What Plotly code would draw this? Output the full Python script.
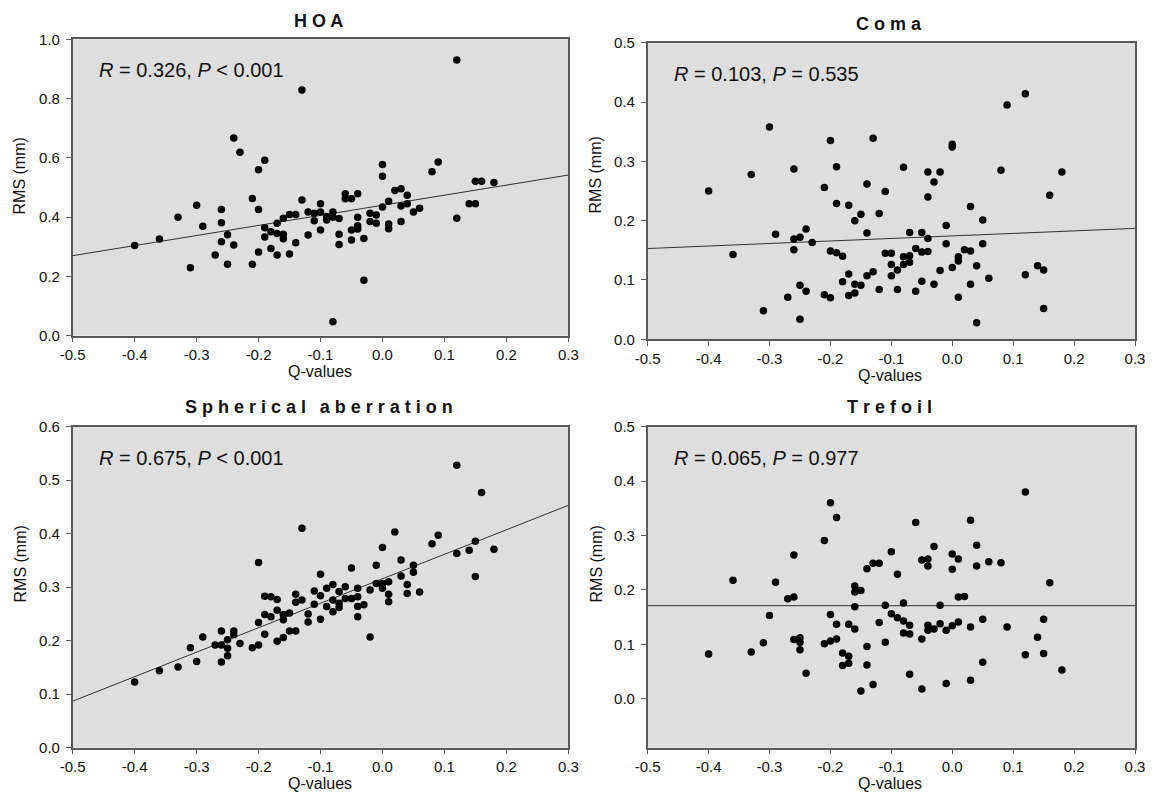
import plotly.graph_objects as go

# The page body has an 8 px margin, so the figure is 8 px smaller than the
# window and every reference pixel position is shifted back by 8 px.
W, H = 1155, 793
OFF = 8
WF, HF = W - OFF, H - OFF

# ---------------- data ----------------
panel_titles = ["HOA", "Coma", "Spherical aberration", "Trefoil"]
stat_texts = ["<i>R</i> = 0.326, <i>P</i> &lt; 0.001",
              "<i>R</i> = 0.103, <i>P</i> = 0.535",
              "<i>R</i> = 0.675, <i>P</i> &lt; 0.001",
              "<i>R</i> = 0.065, <i>P</i> = 0.977"]

hoa_pts = [(-0.40,0.304),(-0.36,0.326),(-0.33,0.400),(-0.31,0.229),(-0.30,0.440),(-0.29,0.369),
           (-0.27,0.272),(-0.26,0.426),(-0.26,0.381),(-0.26,0.317),(-0.25,0.341),(-0.25,0.241),
           (-0.24,0.306),(-0.24,0.667),(-0.23,0.619),(-0.21,0.463),(-0.21,0.241),(-0.20,0.560),
           (-0.20,0.426),(-0.20,0.282),(-0.19,0.592),(-0.19,0.364),(-0.19,0.333),(-0.18,0.351),
           (-0.18,0.294),(-0.17,0.379),(-0.17,0.345),(-0.17,0.272),(-0.16,0.396),(-0.16,0.342),
           (-0.16,0.327),(-0.15,0.409),(-0.15,0.276),(-0.14,0.409),(-0.14,0.314),(-0.13,0.829),
           (-0.13,0.458),(-0.12,0.417),(-0.12,0.340),(-0.11,0.413),(-0.11,0.388),(-0.10,0.445),
           (-0.10,0.417),(-0.10,0.357),(-0.09,0.390),(-0.09,0.402),(-0.08,0.417),(-0.08,0.400),
           (-0.08,0.047),(-0.07,0.395),(-0.07,0.342),(-0.07,0.308),(-0.06,0.479),(-0.06,0.462),
           (-0.05,0.462),(-0.05,0.357),(-0.05,0.323),(-0.04,0.479),(-0.04,0.400),(-0.04,0.371),
           (-0.04,0.360),(-0.03,0.328),(-0.03,0.187),(-0.02,0.413),(-0.02,0.385),(-0.01,0.407),
           (-0.01,0.379),(0.00,0.578),(0.00,0.538),(0.00,0.434),(0.01,0.454),(0.01,0.377),
           (0.01,0.361),(0.02,0.490),(0.03,0.496),(0.03,0.438),(0.03,0.385),(0.04,0.474),
           (0.04,0.445),(0.05,0.417),(0.06,0.430),(0.08,0.553),(0.09,0.586),(0.12,0.930),
           (0.12,0.396),(0.14,0.445),(0.15,0.445),(0.15,0.521),(0.16,0.521),(0.18,0.517)]
hoa_q = [p[0] for p in hoa_pts]
hoa_rms = [p[1] for p in hoa_pts]

coma_pts = [(-0.40,0.250),(-0.36,0.143),(-0.33,0.278),(-0.31,0.048),(-0.30,0.358),(-0.29,0.177),
            (-0.27,0.071),(-0.26,0.287),(-0.26,0.169),(-0.26,0.151),(-0.25,0.172),(-0.25,0.091),
            (-0.25,0.034),(-0.24,0.186),(-0.24,0.081),(-0.23,0.163),(-0.21,0.256),(-0.21,0.075),
            (-0.20,0.335),(-0.20,0.149),(-0.20,0.070),(-0.19,0.291),(-0.19,0.229),(-0.19,0.146),
            (-0.18,0.140),(-0.18,0.097),(-0.17,0.226),(-0.17,0.110),(-0.17,0.074),(-0.16,0.200),
            (-0.16,0.093),(-0.16,0.078),(-0.15,0.211),(-0.15,0.091),(-0.14,0.262),(-0.14,0.179),
            (-0.14,0.107),(-0.13,0.339),(-0.13,0.114),(-0.12,0.212),(-0.12,0.084),(-0.11,0.249),
            (-0.11,0.145),(-0.10,0.145),(-0.10,0.126),(-0.10,0.107),(-0.09,0.117),(-0.09,0.084),
            (-0.08,0.290),(-0.08,0.139),(-0.08,0.126),(-0.07,0.180),(-0.07,0.141),(-0.07,0.130),
            (-0.06,0.153),(-0.06,0.081),(-0.05,0.180),(-0.05,0.147),(-0.05,0.098),(-0.04,0.282),
            (-0.04,0.240),(-0.04,0.170),(-0.04,0.148),(-0.03,0.265),(-0.03,0.093),(-0.02,0.282),
            (-0.02,0.116),(-0.01,0.192),(-0.01,0.161),(0.00,0.329),(0.00,0.324),(0.00,0.121),
            (0.01,0.139),(0.01,0.132),(0.01,0.071),(0.02,0.151),(0.03,0.224),(0.03,0.149),
            (0.03,0.093),(0.04,0.124),(0.04,0.028),(0.05,0.201),(0.05,0.161),(0.06,0.103),
            (0.08,0.285),(0.09,0.395),(0.12,0.414),(0.12,0.109),(0.14,0.124),(0.15,0.117),
            (0.15,0.052),(0.16,0.243),(0.18,0.282)]
coma_q = [p[0] for p in coma_pts]
coma_rms = [p[1] for p in coma_pts]

sph_pts = [(-0.40,0.123),(-0.36,0.144),(-0.33,0.151),(-0.31,0.187),(-0.30,0.161),(-0.29,0.207),
           (-0.27,0.192),(-0.26,0.218),(-0.26,0.192),(-0.26,0.160),(-0.25,0.202),(-0.25,0.186),
           (-0.25,0.172),(-0.24,0.218),(-0.24,0.211),(-0.23,0.195),(-0.21,0.187),(-0.20,0.346),
           (-0.20,0.234),(-0.20,0.192),(-0.19,0.283),(-0.19,0.249),(-0.19,0.212),(-0.18,0.282),
           (-0.18,0.245),(-0.17,0.277),(-0.17,0.257),(-0.17,0.199),(-0.16,0.249),(-0.16,0.239),
           (-0.16,0.206),(-0.15,0.252),(-0.15,0.218),(-0.14,0.287),(-0.14,0.272),(-0.14,0.218),
           (-0.13,0.410),(-0.13,0.276),(-0.12,0.250),(-0.12,0.235),(-0.11,0.293),(-0.11,0.268),
           (-0.10,0.324),(-0.10,0.284),(-0.10,0.240),(-0.09,0.298),(-0.09,0.264),(-0.08,0.305),
           (-0.08,0.276),(-0.08,0.254),(-0.07,0.292),(-0.07,0.270),(-0.07,0.262),(-0.06,0.301),
           (-0.06,0.279),(-0.05,0.336),(-0.05,0.279),(-0.04,0.298),(-0.04,0.282),(-0.04,0.264),
           (-0.04,0.245),(-0.03,0.267),(-0.02,0.295),(-0.02,0.207),(-0.01,0.341),(-0.01,0.307),
           (0.00,0.374),(0.00,0.307),(0.00,0.298),(0.01,0.310),(0.01,0.287),(0.01,0.273),
           (0.02,0.403),(0.03,0.351),(0.03,0.321),(0.04,0.305),(0.04,0.288),(0.05,0.341),
           (0.05,0.328),(0.06,0.291),(0.08,0.381),(0.09,0.397),(0.12,0.528),(0.12,0.363),
           (0.14,0.369),(0.15,0.386),(0.15,0.320),(0.16,0.477),(0.18,0.371)]
sph_q = [p[0] for p in sph_pts]
sph_rms = [p[1] for p in sph_pts]

tre_pts = [(-0.40,0.082),(-0.36,0.218),(-0.33,0.086),(-0.31,0.103),(-0.30,0.153),(-0.29,0.214),
           (-0.27,0.184),(-0.26,0.264),(-0.26,0.187),(-0.26,0.109),(-0.25,0.112),(-0.25,0.104),
           (-0.25,0.090),(-0.24,0.047),(-0.21,0.291),(-0.21,0.101),(-0.20,0.360),(-0.20,0.155),
           (-0.20,0.106),(-0.19,0.333),(-0.19,0.137),(-0.19,0.110),(-0.18,0.084),(-0.18,0.061),
           (-0.17,0.137),(-0.17,0.078),(-0.17,0.065),(-0.16,0.207),(-0.16,0.196),(-0.16,0.169),
           (-0.16,0.128),(-0.15,0.199),(-0.15,0.014),(-0.14,0.239),(-0.14,0.096),(-0.14,0.062),
           (-0.13,0.249),(-0.13,0.026),(-0.12,0.249),(-0.12,0.140),(-0.11,0.172),(-0.11,0.104),
           (-0.10,0.270),(-0.10,0.156),(-0.09,0.229),(-0.09,0.149),(-0.08,0.176),(-0.08,0.143),
           (-0.08,0.121),(-0.07,0.135),(-0.07,0.119),(-0.07,0.045),(-0.06,0.324),(-0.05,0.255),
           (-0.05,0.110),(-0.05,0.018),(-0.04,0.257),(-0.04,0.244),(-0.04,0.135),(-0.04,0.126),
           (-0.03,0.280),(-0.03,0.128),(-0.02,0.172),(-0.02,0.138),(-0.01,0.126),(-0.01,0.028),
           (0.00,0.266),(0.00,0.238),(0.00,0.134),(0.01,0.257),(0.01,0.187),(0.01,0.141),
           (0.02,0.188),(0.03,0.328),(0.03,0.132),(0.03,0.034),(0.04,0.282),(0.04,0.244),
           (0.05,0.146),(0.05,0.067),(0.06,0.252),(0.08,0.250),(0.09,0.132),(0.12,0.380),
           (0.12,0.081),(0.14,0.113),(0.15,0.146),(0.15,0.083),(0.16,0.213),(0.18,0.053)]
tre_q = [p[0] for p in tre_pts]
tre_rms = [p[1] for p in tre_pts]

# regression lines: fitted RMS at the ends of the Q range
fit_q = [-0.5, 0.3]
hoa_fit = [0.270, 0.542]
coma_fit = [0.153, 0.187]
sph_fit = [0.087, 0.453]
tre_fit = [0.171, 0.171]

# tick labels (plain hyphen minus, as in the reference)
x_tick_vals = [-0.5, -0.4, -0.3, -0.2, -0.1, 0.0, 0.1, 0.2, 0.3]
x_tick_text = ["-0.5", "-0.4", "-0.3", "-0.2", "-0.1", "0.0", "0.1", "0.2", "0.3"]
y_tick_vals = [[0.0, 0.2, 0.4, 0.6, 0.8, 1.0],
               [0.0, 0.1, 0.2, 0.3, 0.4, 0.5],
               [0.0, 0.1, 0.2, 0.3, 0.4, 0.5, 0.6],
               [0.0, 0.1, 0.2, 0.3, 0.4, 0.5]]
y_ranges = [[0, 1.0], [0, 0.5], [0, 0.6], [-0.09, 0.5]]

# ---------------- layout helpers ----------------
def fx(px):
    return (px - OFF) / WF

def fy(py):
    return 1 - (py - OFF) / HF

# pixel boxes (window coordinates) of the four plot areas: (left, right, top, bottom)
boxes = [(72.7, 568.3, 39.3, 335.7),
         (647.7, 1135.0, 42.7, 339.3),
         (72.7, 568.3, 426.7, 747.7),
         (647.7, 1135.0, 426.7, 747.7)]

series = [(hoa_q, hoa_rms, hoa_fit), (coma_q, coma_rms, coma_fit),
          (sph_q, sph_rms, sph_fit), (tre_q, tre_rms, tre_fit)]

FONT = "Arial, Liberation Sans, sans-serif"
AXC = "#5a5a5a"

fig = go.Figure()
layout = dict(template="none", width=WF, height=HF, autosize=False,
              margin=dict(l=0, r=0, t=0, b=0, pad=0),
              paper_bgcolor="white", plot_bgcolor="#dedede",
              showlegend=False, font=dict(family=FONT, color="#111"))

annotations = []
for i, ((xs, ys, fit), (l, r, t, b)) in enumerate(zip(series, boxes)):
    n = "" if i == 0 else str(i + 1)
    xa, ya = "x" + n, "y" + n
    fig.add_trace(go.Scatter(x=fit_q, y=fit, mode="lines",
                             line=dict(color="#333333", width=1),
                             xaxis=xa, yaxis=ya, hoverinfo="skip"))
    fig.add_trace(go.Scatter(x=xs, y=ys, mode="markers",
                             marker=dict(color="black", size=7.5, line=dict(width=0)),
                             xaxis=xa, yaxis=ya))
    common = dict(showline=True, linecolor=AXC, linewidth=1.5, mirror=True,
                  ticks="outside", ticklen=5, tickwidth=1, tickcolor=AXC,
                  showgrid=False, zeroline=False, automargin=False,
                  tickfont=dict(family=FONT, size=15, color="#111"))
    yt = y_tick_vals[i]
    layout["xaxis" + n] = dict(domain=[fx(l), fx(r)], anchor=ya,
                               range=[-0.5, 0.3], tickmode="array",
                               tickvals=x_tick_vals, ticktext=x_tick_text, **common)
    layout["yaxis" + n] = dict(domain=[fy(b), fy(t)], anchor=xa,
                               range=y_ranges[i], tickmode="array",
                               tickvals=yt, ticktext=["%.1f" % v for v in yt],
                               ticklabelstandoff=3, **common)
    cx = (l + r) / 2
    # panel title (letter-spaced)
    title_y = [21, 24.5, 406.5, 406.5][i]
    spaced = " ".join(panel_titles[i].replace(" ", "\u2009"))
    annotations.append(dict(text="<b>" + spaced + "</b>", x=fx(cx - 2), y=fy(title_y),
                            xref="paper", yref="paper", showarrow=False,
                            xanchor="center", yanchor="middle",
                            font=dict(family=FONT, size=18, color="#111")))
    # statistics text
    annotations.append(dict(text=stat_texts[i], x=fx(l + 24), y=fy(t + 31),
                            xref="paper", yref="paper", showarrow=False,
                            xanchor="left", yanchor="middle",
                            font=dict(family=FONT, size=20, color="#111")))
    # x axis title
    annotations.append(dict(text="Q-values", x=fx(cx - 1), y=fy(b + 36),
                            xref="paper", yref="paper", showarrow=False,
                            xanchor="center", yanchor="middle",
                            font=dict(family=FONT, size=16, color="#111")))
    # y axis title
    ax_x = 19.5 if i in (0, 2) else 595.5
    ax_y = [176, 175, 564, 564][i]
    annotations.append(dict(text="RMS (mm)", x=fx(ax_x), y=fy(ax_y),
                            xref="paper", yref="paper", showarrow=False,
                            textangle=-90, xanchor="center", yanchor="middle",
                            font=dict(family=FONT, size=16, color="#111")))

layout["annotations"] = annotations
fig.update_layout(**layout)
fig.write_html("out.html")
